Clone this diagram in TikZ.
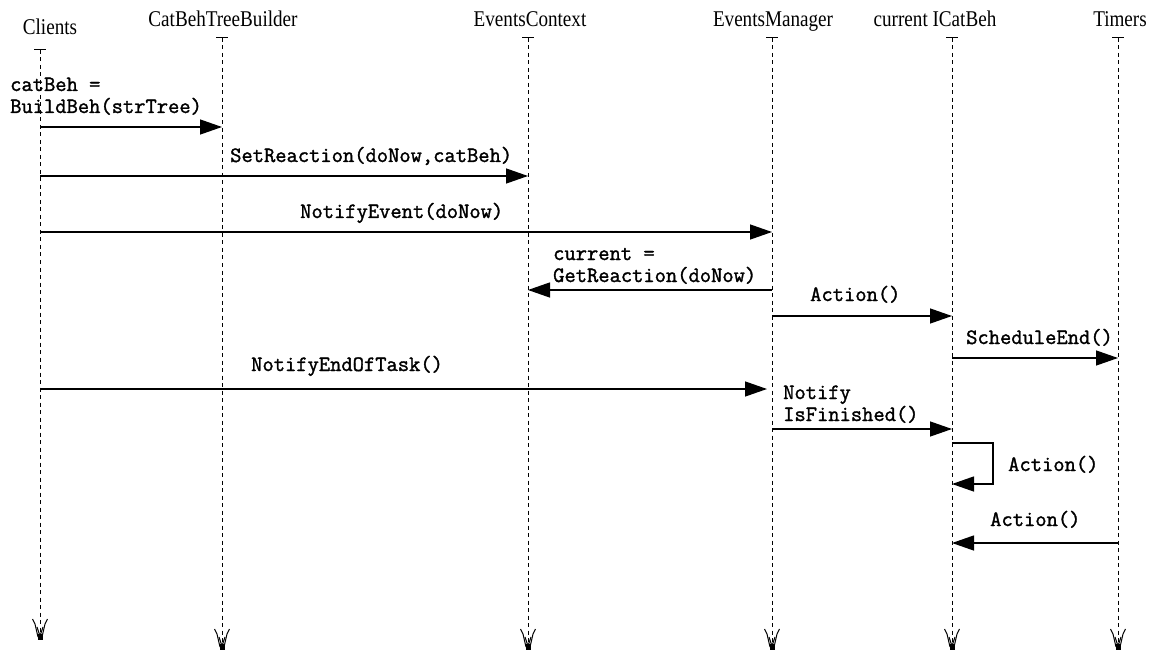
\documentclass[tikz,border=0pt]{standalone}
\usepackage{fontspec}
\setmainfont{Liberation Serif}
\setmonofont{Latin Modern Mono}[FakeBold=1.5]
\usetikzlibrary{arrows.meta}
\newcommand{\headtext}[1]{\scalebox{0.85}[1]{#1}}
\begin{document}
\begin{tikzpicture}[x=1pt,y=-1pt,
  head/.style={font=\fontsize{22.5}{22.5}\selectfont, inner sep=0pt, anchor=base},
  life/.style={line width=1pt, dash pattern=on 4pt off 3.5pt},
  endmark/.style={line width=1pt},
  msg/.style={line width=1.3pt, -{Triangle[length=22pt,width=15pt]}},
  lbl/.style={font=\fontsize{21.9}{22}\ttfamily, inner sep=0pt, anchor=base west}]
\useasboundingbox (0,0) rectangle (1150,652);

% object heads
\node[head] (hCl) at (50,35)   {\headtext{Clients}};
\node[head] (hCb) at (223,27)  {\headtext{CatBehTreeBuilder}};
\node[head] (hEc) at (530,27)  {\headtext{EventsContext}};
\node[head] (hEm) at (773,27)  {\headtext{EventsManager}};
\node[head] (hIc) at (935,27)  {\headtext{current ICatBeh}};
\node[head] (hTi) at (1120,27) {\headtext{Timers}};

% lifeline tops and bottoms
\coordinate (tCl) at (40,50);   \coordinate (bCl) at (40,640);
\coordinate (tCb) at (222,38);  \coordinate (bCb) at (222,650);
\coordinate (tEc) at (528,38);  \coordinate (bEc) at (528,650);
\coordinate (tEm) at (772,38);  \coordinate (bEm) at (772,650);
\coordinate (tIc) at (952,38);  \coordinate (bIc) at (952,650);
\coordinate (tTi) at (1118,38); \coordinate (bTi) at (1118,650);

\foreach \t/\b in {tCl/bCl,tCb/bCb,tEc/bEc,tEm/bEm,tIc/bIc,tTi/bTi}{
  \draw[endmark] ([xshift=-6pt]\t) -- ([xshift=6pt]\t);
  \draw[life] (\t) -- ([yshift=8pt]\b);
  % open end mark
  \draw[endmark] ([shift={(-7.5pt,21pt)}]\b) -- ([shift={(-5pt,16pt)}]\b) -- ([shift={(-2pt,3pt)}]\b);
  \draw[endmark] ([shift={(7.5pt,21pt)}]\b) -- ([shift={(5pt,16pt)}]\b) -- ([shift={(2pt,3pt)}]\b);
  \draw[endmark] ([shift={(-3pt,13pt)}]\b) -- ([shift={(0pt,4pt)}]\b) -- ([shift={(3pt,13pt)}]\b);
  \fill ([shift={(-2.5pt,6pt)}]\b) rectangle ([shift={(2.5pt,0pt)}]\b);
}

% message end points
\coordinate (m1a) at (40,127);  \coordinate (m1b) at (222,127);
\coordinate (m2a) at (40,176);  \coordinate (m2b) at (528,176);
\coordinate (m3a) at (40,232);  \coordinate (m3b) at (772,232);
\coordinate (m4a) at (772,290); \coordinate (m4b) at (528,290);
\coordinate (m5a) at (772,316); \coordinate (m5b) at (952,316);
\coordinate (m6a) at (952,358); \coordinate (m6b) at (1118,358);
\coordinate (m7a) at (40,389);  \coordinate (m7b) at (767,389);
\coordinate (m8a) at (772,429); \coordinate (m8b) at (952,429);
\coordinate (m9a) at (952,443); \coordinate (m9c) at (993,443);
\coordinate (m9d) at (993,484); \coordinate (m9b) at (952,484);
\coordinate (m10a) at (1118,543); \coordinate (m10b) at (952,543);

\draw[msg] (m1a) -- (m1b);
\draw[msg] (m2a) -- (m2b);
\draw[msg] (m3a) -- (m3b);
\draw[msg] (m4a) -- (m4b);
\draw[msg] (m5a) -- (m5b);
\draw[msg] (m6a) -- (m6b);
\draw[msg] (m7a) -- (m7b);
\draw[msg] (m8a) -- (m8b);
\draw[msg] (m9a) -- (m9c) -- (m9d) -- (m9b);
\draw[msg] (m10a) -- (m10b);

% message labels
\node[lbl] (l1a) at (10,91)   {catBeh =};
\node[lbl] (l1b) at (10,113)  {BuildBeh(strTree)};
\node[lbl] (l2)  at (230,162) {SetReaction(doNow,catBeh)};
\node[lbl] (l3)  at (300,218) {NotifyEvent(doNow)};
\node[lbl] (l4a) at (553,260) {current =};
\node[lbl] (l4b) at (553,282) {GetReaction(doNow)};
\node[lbl] (l5)  at (810,301) {Action()};
\node[lbl] (l6)  at (966,344) {ScheduleEnd()};
\node[lbl] (l7)  at (251,371) {NotifyEndOfTask()};
\node[lbl] (l8a) at (783,399) {Notify};
\node[lbl] (l8b) at (783,421) {IsFinished()};
\node[lbl] (l9)  at (1008,471) {Action()};
\node[lbl] (l10) at (990,526) {Action()};
\end{tikzpicture}
\end{document}
